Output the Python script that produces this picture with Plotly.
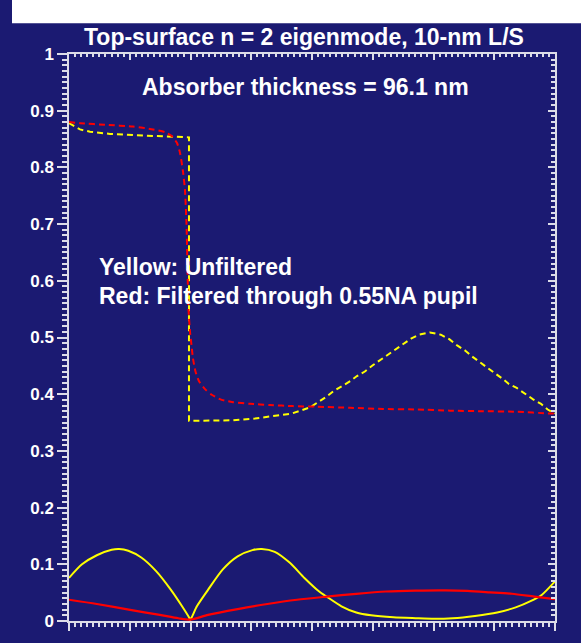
import plotly.graph_objects as go

# Lateral position (arbitrary units, 8 major divisions across the window)
# Dashed curves: top-surface eigenmode profile
unf_dash_x = [0.0, 0.181, 0.346, 0.675, 1.053, 1.383, 1.827, 1.975, 1.975, 2.10, 2.70,
              3.06, 3.47, 3.67, 3.84, 3.97, 4.10, 4.23, 4.35, 4.49, 4.63, 4.74, 4.87,
              5.00, 5.12, 5.23, 5.37, 5.50, 5.63, 5.76, 5.94, 6.12, 6.26, 6.39, 6.52,
              6.63, 6.75, 6.88, 7.01, 7.14, 7.24, 7.37, 7.51, 7.64, 7.77, 7.88, 8.0]
unf_dash_y = [0.878, 0.867, 0.863, 0.859, 0.857, 0.856, 0.854, 0.853, 0.353, 0.353, 0.354,
              0.357, 0.363, 0.366, 0.372, 0.377, 0.386, 0.395, 0.405, 0.414, 0.423, 0.432, 0.440,
              0.451, 0.460, 0.469, 0.479, 0.488, 0.498, 0.505, 0.509, 0.505, 0.497, 0.486, 0.477,
              0.467, 0.458, 0.447, 0.437, 0.427, 0.418, 0.411, 0.400, 0.391, 0.383, 0.373, 0.366]

filt_dash_x = [0.0, 0.181, 0.626, 1.053, 1.383, 1.580, 1.695, 1.778, 1.827, 1.877, 1.909,
               1.934, 1.951, 1.967, 1.992, 2.017, 2.041, 2.082, 2.140, 2.239, 2.349, 2.514,
               2.700, 2.979, 3.309, 3.687, 4.082, 4.626, 5.169, 5.728, 6.272, 6.815, 7.374,
               7.918, 8.0]
filt_dash_y = [0.880, 0.878, 0.875, 0.872, 0.867, 0.862, 0.855, 0.843, 0.826, 0.792, 0.760,
               0.700, 0.620, 0.550, 0.510, 0.486, 0.463, 0.440, 0.423, 0.409, 0.399, 0.390,
               0.386, 0.383, 0.381, 0.379, 0.378, 0.376, 0.374, 0.373, 0.371, 0.370, 0.369,
               0.366, 0.366]

# Solid curves: near-zero residual intensity along the bottom
unf_solid_x = [0.0, 0.214, 0.458, 0.702, 0.824, 0.976, 1.19, 1.434, 1.678, 1.861, 1.983,
               1.995, 2.105, 2.288, 2.532, 2.776, 3.02, 3.173, 3.387, 3.631, 3.875, 4.119,
               4.241, 4.485, 4.729, 4.973, 5.339, 5.705, 6.01, 6.316, 6.682, 7.048, 7.353,
               7.597, 7.78, 8.0]
unf_solid_y = [0.076, 0.100, 0.116, 0.1256, 0.127, 0.124, 0.112, 0.088, 0.055, 0.026, 0.005,
               0.002, 0.026, 0.055, 0.091, 0.114, 0.125, 0.127, 0.122, 0.103, 0.076, 0.052,
               0.043, 0.026, 0.015, 0.010, 0.0065, 0.005, 0.004, 0.005, 0.009, 0.015, 0.024,
               0.035, 0.046, 0.070]

filt_solid_x = [0.0, 0.458, 1.007, 1.495, 1.80, 1.995, 2.288, 2.776, 3.265, 3.753, 4.241,
                4.729, 5.217, 5.705, 6.193, 6.56, 6.926, 7.292, 7.658, 8.0]
filt_solid_y = [0.0375, 0.030, 0.0196, 0.0107, 0.0048, 0.0024, 0.0107, 0.021, 0.030, 0.0375,
                0.043, 0.048, 0.052, 0.0536, 0.054, 0.053, 0.0506, 0.048, 0.043, 0.0387]

title_text = "Top-surface n = 2 eigenmode, 10-nm L/S"
thickness_text = "Absorber thickness = 96.1 nm"
legend_lines = ["Yellow: Unfiltered", "Red: Filtered through 0.55NA pupil"]

BG = "#1b1a72"
AXC = "#dcdce8"
FONT = "Liberation Sans, Arial, sans-serif"
DASH = "6px,4px"
TXT = dict(size=23, color="white", family=FONT)

fig = go.Figure()
fig.add_trace(go.Scatter(x=unf_dash_x, y=unf_dash_y, mode="lines",
                         line=dict(color="#ffff00", width=2, dash=DASH)))
fig.add_trace(go.Scatter(x=filt_dash_x, y=filt_dash_y, mode="lines",
                         line=dict(color="#ff0000", width=2, dash=DASH,
                                   shape="spline", smoothing=0.6)))
fig.add_trace(go.Scatter(x=unf_solid_x, y=unf_solid_y, mode="lines",
                         line=dict(color="#ffff00", width=2,
                                   shape="spline", smoothing=0.7)))
# Filtered solid curve is drawn on the mirror axes so the top/right frame is rendered
fig.add_trace(go.Scatter(x=filt_solid_x, y=filt_solid_y, mode="lines",
                         line=dict(color="#ff0000", width=2.2,
                                   shape="spline", smoothing=0.7),
                         xaxis="x2", yaxis="y2"))

common = dict(showgrid=False, zeroline=False, showline=True, linecolor=AXC,
              linewidth=1.5, tickcolor=AXC, tickwidth=1.5)

fig.update_layout(
    width=581, height=643,
    margin=dict(l=69, r=26, t=54, b=19),
    paper_bgcolor=BG, plot_bgcolor=BG,
    showlegend=False,
    font=dict(family=FONT, color="white"),
    xaxis=dict(range=[0, 8], dtick=1, ticks="outside", ticklen=8,
               showticklabels=False,
               minor=dict(dtick=0.1, ticks="outside", ticklen=4, tickcolor=AXC),
               **common),
    yaxis=dict(range=[0, 1], dtick=0.1, ticks="outside", ticklen=10,
               tickfont=dict(size=17, family=FONT, color="white", weight="bold"),
               minor=dict(dtick=0.01, ticks="outside", ticklen=5, tickcolor=AXC),
               **common),
    xaxis2=dict(range=[0, 8], overlaying="x", side="top", anchor="y2", dtick=1,
                ticks="inside", ticklen=6, showticklabels=False,
                minor=dict(dtick=0.1, ticks="inside", ticklen=3, tickcolor=AXC),
                **common),
    yaxis2=dict(range=[0, 1], overlaying="y", side="right", anchor="x2", dtick=0.1,
                ticks="inside", ticklen=7, showticklabels=False,
                minor=dict(dtick=0.01, ticks="inside", ticklen=4, tickcolor=AXC),
                **common),
)

# White strip across the top edge of the page
fig.add_shape(type="rect", xref="paper", yref="paper",
              x0=(12 - 69) / 486, x1=(581 - 69) / 486,
              y0=1 + (54 - 23) / 571, y1=1 + 54 / 571 + 0.01,
              fillcolor="white", line=dict(width=0), layer="above")

fig.add_annotation(text="<b>" + title_text + "</b>", xref="paper", yref="paper",
                   x=(304 - 69) / 486, y=1 + (54 - 37) / 571,
                   xanchor="center", yanchor="middle", showarrow=False, font=TXT)
fig.add_annotation(text="<b>" + thickness_text + "</b>", xref="x", yref="y",
                   x=3.885, y=0.941, xanchor="center", yanchor="middle",
                   showarrow=False, font=TXT)
fig.add_annotation(text="<b>" + legend_lines[0] + "</b>", xref="x", yref="y",
                   x=0.461, y=0.624, xanchor="left", yanchor="middle",
                   showarrow=False, font=TXT)
fig.add_annotation(text="<b>" + legend_lines[1] + "</b>", xref="x", yref="y",
                   x=0.461, y=0.574, xanchor="left", yanchor="middle",
                   showarrow=False, font=TXT)

fig.write_html("out.html")
